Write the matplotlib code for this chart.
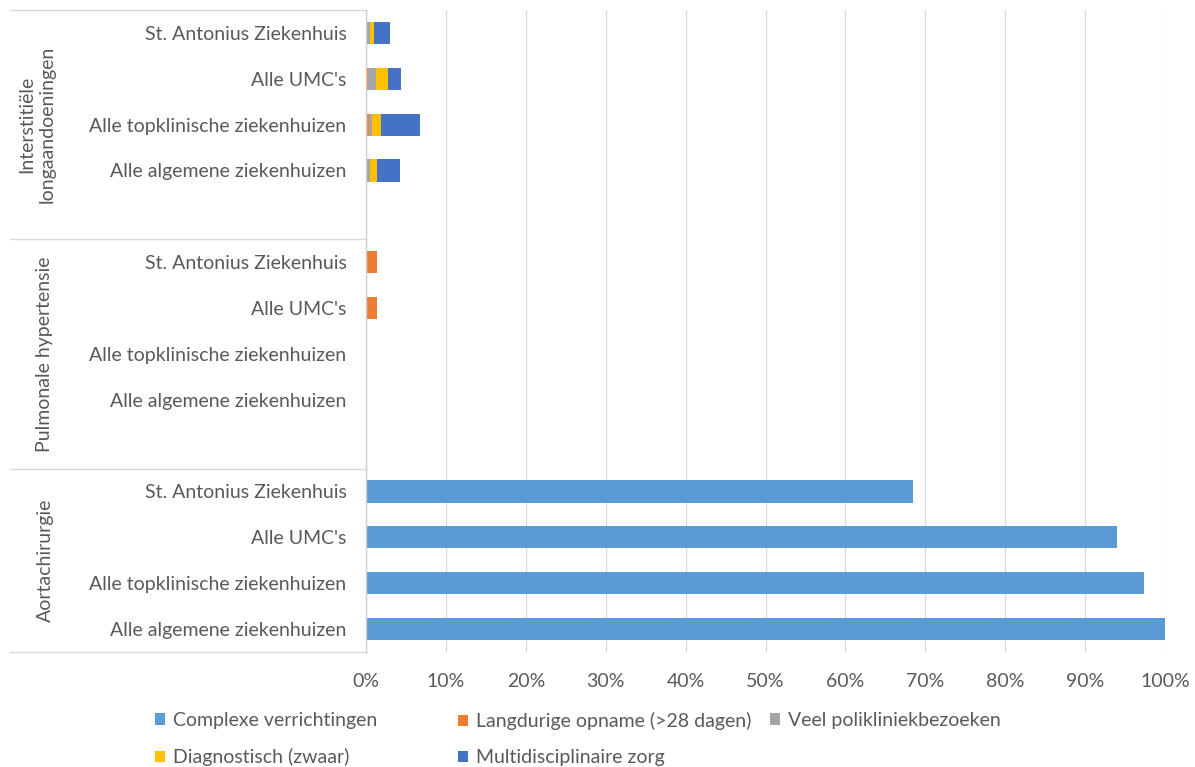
import matplotlib
matplotlib.use("Agg")
import matplotlib.pyplot as plt
import numpy as np
from matplotlib.patches import Patch

plt.rcParams['font.family'] = ['Lato', 'DejaVu Sans']

groups = ["Interstitiële\nlongaandoeningen", "Pulmonale hypertensie", "Aortachirurgie"]
hospitals = ["St. Antonius Ziekenhuis", "Alle UMC's", "Alle topklinische ziekenhuizen", "Alle algemene ziekenhuizen"]

series_names = ["Complexe verrichtingen", "Langdurige opname (>28 dagen)", "Veel polikliniekbezoeken",
                "Diagnostisch (zwaar)", "Multidisciplinaire zorg"]
series_colors = ["#5B9BD5", "#ED7D31", "#A5A5A5", "#FFC000", "#4472C4"]

# values in %, per group (rows: hospitals in order above)
complexe = [[0, 0, 0, 0], [0, 0, 0, 0], [68.4, 94.0, 97.4, 100.0]]
langdurig = [[0.13, 0.29, 0.33, 0.17], [1.4, 1.4, 0, 0], [0, 0, 0, 0]]
poli = [[0.33, 0.96, 0.46, 0.33], [0, 0, 0, 0], [0, 0, 0, 0]]
diagnostisch = [[0.58, 1.5, 1.04, 0.88], [0, 0, 0, 0], [0, 0, 0, 0]]
multidisciplinair = [[2.0, 1.67, 4.92, 2.88], [0, 0, 0, 0], [0, 0, 0, 0]]

x_ticks = [0, 10, 20, 30, 40, 50, 60, 70, 80, 90, 100]
x_ticklabels = [f"{t}%" for t in x_ticks]

W, H = 1195, 767
FS = 14
fig = plt.figure(figsize=(W / 100, H / 100), dpi=100)
ax = fig.add_axes([366 / W, 1 - 652 / H, (1165 - 366) / W, (652 - 10) / H])

TXT = "#595959"
slots_per_group = 5
n_slots = 14
ypos = []
labels = []
for g in range(len(groups)):
    for r in range(len(hospitals)):
        ypos.append(n_slots - 1 - slots_per_group * g - r)
        labels.append(hospitals[r])
ypos = np.array(ypos)

all_series = [complexe, langdurig, poli, diagnostisch, multidisciplinair]
left = np.zeros(len(ypos))
for name, col, data in zip(series_names, series_colors, all_series):
    vals = np.array(data, dtype=float).ravel()
    ax.barh(ypos, vals, left=left, height=0.48, color=col, label=name, zorder=3)
    left += vals

ax.set_xlim(0, 100)
ax.set_ylim(-0.5, n_slots - 0.5)
ax.set_xticks(x_ticks)
ax.set_xticklabels(x_ticklabels, color=TXT, fontsize=FS)
ax.set_yticks(ypos)
ax.set_yticklabels(labels, color=TXT, fontsize=FS)
ax.tick_params(axis='y', length=0, pad=14)
ax.tick_params(axis='x', length=0, pad=15)
ax.grid(axis='x', color="#D9D9D9", lw=0.9, zorder=0)
for s in ['top', 'right', 'bottom']:
    ax.spines[s].set_visible(False)
ax.spines['left'].set_color("#D0D0D0")
ax.spines['left'].set_linewidth(1.0)
ax.spines['left'].set_zorder(4)

# group separators
tr = ax.get_yaxis_transform()
x0 = (10 - 366) / (1165 - 366)
bounds = [n_slots - 0.5 - slots_per_group * g for g in range(len(groups))] + [-0.5]
for b in bounds:
    ax.plot([x0, 0], [b, b], transform=tr, color="#D9D9D9", lw=1.0, clip_on=False)

# group labels
gx = [(37 - 366) / 799, (45 - 366) / 799, (45 - 366) / 799]
gy = [11.0, 6.0, 1.5]
for g, name in enumerate(groups):
    ax.text(gx[g], gy[g], name, transform=tr, rotation=90, ha='center', va='center',
            color=TXT, fontsize=FS, multialignment='center', linespacing=1.3)

# legend (three columns)
handles = [Patch(facecolor=c, edgecolor='none') for c in series_colors]
cols = [[0, 3], [1, 4], [2]]
col_x = [155 / W, 458 / W, 770 / W]
for ci, idxs in enumerate(cols):
    leg = fig.legend([handles[i] for i in idxs], [series_names[i] for i in idxs],
                     loc='upper left', bbox_to_anchor=(col_x[ci], 1 - 712 / H),
                     frameon=False, fontsize=FS, handlelength=0.52, handleheight=0.52,
                     handletextpad=0.4, labelspacing=0.98, borderaxespad=0, borderpad=0)
    for t in leg.get_texts():
        t.set_color(TXT)

fig.savefig("out.png", dpi=100)
